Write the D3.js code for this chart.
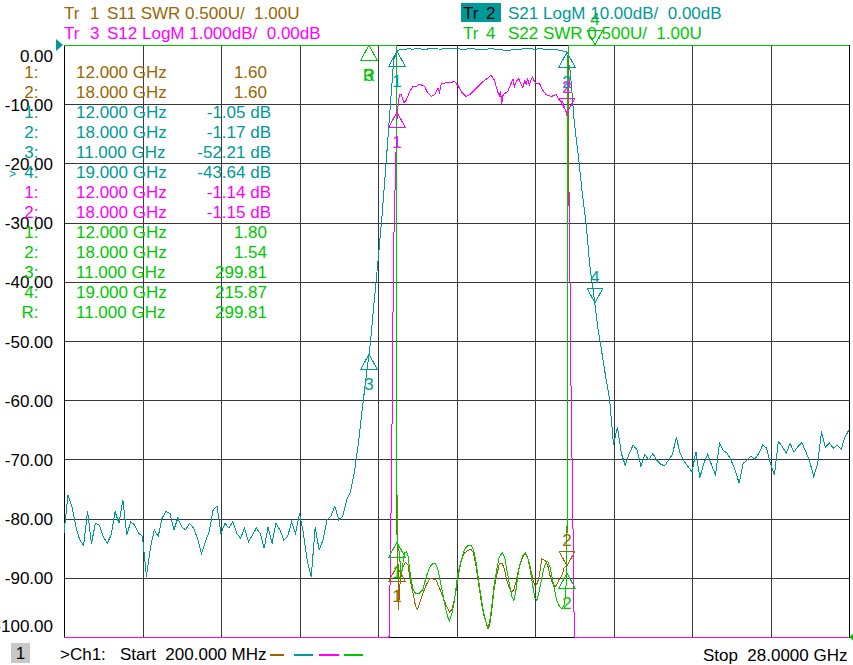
<!DOCTYPE html>
<html>
<head>
<meta charset="utf-8">
<script src="https://cdn.jsdelivr.net/npm/d3@7"></script>
<style>
  html, body { margin: 0; padding: 0; background: #fff; }
  svg { display: block; font-family: "Liberation Sans", Arial, sans-serif; font-size: 17px; }
  text { white-space: pre; }
</style>
</head>
<body>
<div id="chart"></div>
<script>
// sweep
const START_GHZ = 0.2;
const STOP_GHZ = 28.0;
const POINTS = 201;

// Tr2 S21 (dB), one value per sweep point
const S21_DB = [
  -82.5, -76.0, -77.9, -81.3, -83.6, -84.5, -78.8, -84.2, -80.8, -81.1,
  -83.0, -84.2, -82.8, -78.8, -80.8, -76.9, -82.8, -80.5, -81.1, -82.5,
  -83.0, -89.8, -85.0, -81.9, -83.0, -79.9, -78.8, -79.1, -81.9, -79.9,
  -81.4, -81.9, -80.8, -81.6, -83.3, -85.9, -83.9, -82.2, -78.5, -77.9,
  -82.5, -80.8, -81.6, -80.5, -82.5, -83.3, -81.6, -83.9, -82.8, -81.6,
  -82.5, -85.0, -81.4, -84.2, -80.8, -81.9, -83.6, -83.0, -80.5, -82.5,
  -79.1, -82.5, -87.3, -89.8, -81.4, -85.3, -83.6, -80.2, -79.6, -77.9,
  -80.2, -79.6, -76.9, -75.5, -72.1, -67.3, -61.4, -56.0, -50.7, -43.5,
  -36.5, -29.0, -20.5, -11.5, -2.5, -0.9, -0.75, -0.70, -0.65, -0.70,
  -0.62, -0.68, -0.72, -0.65, -0.60, -0.66, -0.70, -0.64, -0.58, -0.55,
  -0.60, -0.68, -0.72, -0.66, -0.62, -0.70, -0.78, -0.74, -0.68, -0.64,
  -0.70, -0.80, -0.86, -0.90, -0.84, -0.76, -0.70, -0.66, -0.62, -0.66,
  -0.70, -0.64, -0.68, -0.75, -0.82, -0.78, -0.85, -1.00, -1.17, -4.5,
  -13.0, -18.5, -24.8, -30.1, -37.5, -42.3, -47.8, -51.8, -56.0, -59.8,
  -67.5, -64.5, -69.0, -71.0, -69.0, -67.6, -68.4, -71.2, -69.2, -70.1,
  -69.0, -70.1, -70.8, -71.1, -70.1, -69.2, -66.3, -69.0, -70.3, -71.2,
  -72.1, -68.7, -73.1, -70.7, -69.1, -71.0, -72.6, -67.3, -68.5, -69.0,
  -70.2, -71.8, -74.0, -70.7, -70.1, -69.4, -70.0, -69.0, -67.6, -68.1,
  -70.7, -72.6, -67.0, -67.8, -69.0, -67.3, -68.8, -67.8, -67.2, -68.7,
  -70.4, -72.9, -70.8, -65.3, -68.0, -67.2, -68.1, -67.6, -68.3, -66.2,
  -65.0
];

// Tr3 S12 (dB), [GHz, dB]
const S12_PTS = [
  [0.2, -80], [11.71, -12.0], [11.74, -9.3], [11.79, -7.6], [11.83, -5.8],
  [11.85, -4.6], [11.88, -3.3], [11.93, -2.3], [11.97, -1.6], [12.00, -1.14],
  [12.04, -1.00], [12.08, -0.84], [12.14, -0.84], [12.24, -0.98], [12.32, -0.93],
  [12.44, -0.79], [12.55, -0.70], [12.67, -0.70], [12.79, -0.66], [12.97, -0.70],
  [13.08, -0.81], [13.21, -0.87], [13.32, -0.84], [13.44, -0.73], [13.50, -0.80],
  [13.56, -0.65], [13.74, -0.64], [13.89, -0.63], [14.03, -0.62], [14.15, -0.68],
  [14.27, -0.79], [14.44, -0.87], [14.62, -0.82], [14.80, -0.73], [15.03, -0.62],
  [15.21, -0.56], [15.33, -0.51], [15.44, -0.59], [15.56, -0.79], [15.62, -0.86],
  [15.66, -0.78], [15.70, -1.00], [15.74, -0.86], [15.80, -0.82], [15.91, -0.79],
  [16.03, -0.65], [16.10, -0.58], [16.15, -0.70], [16.21, -0.62], [16.30, -0.57],
  [16.39, -0.66], [16.45, -0.72], [16.52, -0.60], [16.57, -0.66], [16.62, -0.56],
  [16.68, -0.68], [16.74, -0.59], [16.80, -0.54], [16.86, -0.62], [16.95, -0.66],
  [17.04, -0.65], [17.15, -0.76], [17.27, -0.84], [17.45, -0.87], [17.63, -0.84],
  [17.74, -0.93], [17.86, -0.96], [17.98, -1.13], [18.00, -1.15], [18.04, -1.30],
  [18.07, -1.9], [18.11, -3.5], [18.16, -6.0], [18.21, -7.6], [18.25, -9.0],
  [18.27, -12.0], [28.0, -70]
];

// Tr1 S11 (SWR), [GHz, U]
const S11_PTS = [
  [0.2, 250], [11.0, 290], [11.92, 180], [11.97, 6.5], [11.99, 2.0],
  [12.00, 1.60], [12.03, 1.62], [12.05, 1.23], [12.08, 1.40], [12.13, 1.52],
  [12.21, 1.60], [12.30, 1.63], [12.38, 1.61], [12.47, 1.47], [12.56, 1.37],
  [12.65, 1.26], [12.71, 1.23], [12.79, 1.28], [12.91, 1.37], [13.03, 1.44],
  [13.15, 1.49], [13.26, 1.49], [13.38, 1.48], [13.50, 1.41], [13.62, 1.34],
  [13.73, 1.27], [13.85, 1.21], [13.93, 1.23], [13.99, 1.28], [14.09, 1.40],
  [14.18, 1.54], [14.27, 1.65], [14.38, 1.71], [14.50, 1.73], [14.62, 1.74],
  [14.70, 1.71], [14.80, 1.59], [14.88, 1.45], [14.97, 1.31], [15.06, 1.19],
  [15.15, 1.12], [15.21, 1.07], [15.27, 1.09], [15.35, 1.23], [15.44, 1.42],
  [15.54, 1.54], [15.62, 1.62], [15.72, 1.62], [15.80, 1.57], [15.88, 1.48],
  [15.98, 1.41], [16.06, 1.38], [16.13, 1.40], [16.21, 1.47], [16.30, 1.57],
  [16.39, 1.64], [16.48, 1.69], [16.56, 1.70], [16.65, 1.65], [16.72, 1.58],
  [16.80, 1.49], [16.88, 1.43], [16.95, 1.45], [17.03, 1.51], [17.12, 1.66],
  [17.19, 1.65], [17.27, 1.64], [17.35, 1.59], [17.42, 1.51], [17.51, 1.45],
  [17.59, 1.42], [17.66, 1.45], [17.74, 1.49], [17.82, 1.51], [17.92, 1.59],
  [18.00, 1.60], [18.03, 2.2], [18.06, 6.5], [18.10, 200], [28.0, 250]
];

// Tr4 S22 (SWR), [GHz, U]
const S22_PTS = [
  [0.2, 250], [11.0, 299.81], [11.93, 180], [11.96, 6.5], [11.99, 2.4],
  [12.00, 1.80], [12.04, 1.76], [12.08, 1.70], [12.14, 1.51], [12.20, 1.62],
  [12.26, 1.71], [12.32, 1.72], [12.38, 1.69], [12.44, 1.57], [12.56, 1.40],
  [12.65, 1.37], [12.79, 1.37], [12.91, 1.40], [13.03, 1.51], [13.15, 1.59],
  [13.26, 1.62], [13.36, 1.62], [13.44, 1.57], [13.56, 1.43], [13.68, 1.28],
  [13.79, 1.17], [13.85, 1.14], [13.95, 1.21], [14.03, 1.31], [14.09, 1.43],
  [14.15, 1.54], [14.27, 1.65], [14.38, 1.74], [14.50, 1.77], [14.62, 1.77],
  [14.70, 1.74], [14.80, 1.62], [14.88, 1.48], [14.97, 1.34], [15.06, 1.21],
  [15.15, 1.12], [15.21, 1.08], [15.27, 1.12], [15.35, 1.26], [15.44, 1.45],
  [15.54, 1.59], [15.62, 1.68], [15.72, 1.71], [15.80, 1.68], [15.88, 1.57],
  [15.98, 1.44], [16.06, 1.34], [16.13, 1.31], [16.19, 1.37], [16.27, 1.51],
  [16.35, 1.62], [16.45, 1.69], [16.54, 1.71], [16.62, 1.67], [16.71, 1.57],
  [16.80, 1.43], [16.88, 1.33], [16.95, 1.31], [17.01, 1.37], [17.10, 1.47],
  [17.18, 1.57], [17.25, 1.62], [17.33, 1.64], [17.41, 1.59], [17.48, 1.51],
  [17.57, 1.40], [17.65, 1.31], [17.74, 1.26], [17.83, 1.24], [17.90, 1.26],
  [17.96, 1.34], [18.00, 1.54], [18.03, 2.4], [18.05, 6.5], [18.08, 180],
  [19.0, 215.87], [28.0, 240]
];

// marker readouts: [id, GHz, value]
const MARKERS_TR1 = [["1", 12.0, 1.60], ["2", 18.0, 1.60]];
const MARKERS_TR2 = [["1", 12.0, -1.05], ["2", 18.0, -1.17], ["3", 11.0, -52.21], ["4", 19.0, -43.64]];
const MARKERS_TR3 = [["1", 12.0, -1.14], ["2", 18.0, -1.15]];
const MARKERS_TR4 = [["1", 12.0, 1.80], ["2", 18.0, 1.54], ["3", 11.0, 299.81], ["4", 19.0, 215.87], ["R", 11.0, 299.81]];

// trace setup text
const TRACE_NO = ["1", "2", "3", "4"];
const TRACE_PARAM = ["S11", "S21", "S12", "S22"];
const TRACE_FMT = ["SWR", "LogM", "LogM", "SWR"];
const TRACE_SCALE = ["0.500U/", "10.00dB/", "1.000dB/", "0.500U/"];
const TRACE_REF = ["1.00U", "0.00dB", "0.00dB", "1.00U"];

const Y_TICKS = [0, -10, -20, -30, -40, -50, -60, -70, -80, -90, -100];

// ---------------------------------------------------------------
const width = 853;
const height = 665;
const plot = { left: 64, right: 849, top: 45, bottom: 637 };
const colors = { tr1: "#996600", tr2: "#009999", tr3: "#ff00ff", tr4: "#00c800", grid: "#383838" };

const svg = d3
  .select("#chart")
  .append("svg")
  .attr("width", width)
  .attr("height", height)
  .attr("viewBox", `0 0 ${width} ${height}`);

const x = d3.scaleLinear().domain([START_GHZ, STOP_GHZ]).range([plot.left, plot.right]);
const yTr2 = d3.scaleLinear().domain([-100, 0]).range([plot.bottom, plot.top]).clamp(true);
const yTr3 = d3.scaleLinear().domain([-10, 0]).range([plot.bottom, plot.top]).clamp(true);
const ySwr = d3.scaleLinear().domain([1, 6]).range([plot.bottom, plot.top]).clamp(true);

const sweep = d3.range(POINTS).map((i) => START_GHZ + (i * (STOP_GHZ - START_GHZ)) / (POINTS - 1));
const xDivs = d3.range(11).map((k) => START_GHZ + (k * (STOP_GHZ - START_GHZ)) / 10);

// grid
const gridG = svg.append("g").attr("shape-rendering", "crispEdges");
gridG
  .append("g")
  .attr("transform", `translate(${plot.left},0)`)
  .call(d3.axisLeft(yTr2).tickValues(Y_TICKS).tickSize(-(plot.right - plot.left)).tickFormat(""))
  .call((g) => g.select(".domain").remove())
  .call((g) => g.selectAll("line").attr("stroke", colors.grid));
gridG
  .append("g")
  .attr("transform", `translate(0,${plot.bottom})`)
  .call(d3.axisBottom(x).tickValues(xDivs).tickSize(-(plot.bottom - plot.top)).tickFormat(""))
  .call((g) => g.select(".domain").remove())
  .call((g) => g.selectAll("line").attr("stroke", colors.grid));
gridG
  .append("rect")
  .attr("x", plot.left)
  .attr("y", plot.top)
  .attr("width", plot.right - plot.left)
  .attr("height", plot.bottom - plot.top)
  .attr("fill", "none")
  .attr("stroke", "#000");

// y labels (active trace Tr2)
svg
  .append("g")
  .attr("transform", `translate(${plot.left},0)`)
  .call(d3.axisLeft(yTr2).tickValues(Y_TICKS).tickSize(0).tickPadding(11).tickFormat((d) => d.toFixed(2)))
  .call((g) => g.select(".domain").remove())
  .call((g) =>
    g
      .selectAll("text")
      .attr("fill", "#000")
      .attr("font-size", 17)
      .attr("font-family", "Liberation Sans, Arial, sans-serif")
      .attr("dy", (d) => (d === 0 ? "16px" : d === -100 ? "-6px" : "6px"))
  );

// traces
function drawTrace(data, yScale, color) {
  const line = d3
    .line()
    .x((d) => x(d[0]))
    .y((d) => yScale(d[1]));
  svg
    .append("path")
    .attr("d", line(data))
    .attr("fill", "none")
    .attr("stroke", color)
    .attr("stroke-width", 1)
    .attr("shape-rendering", "crispEdges");
}

drawTrace(sweep.map((f, i) => [f, S21_DB[i]]), yTr2, colors.tr2);
drawTrace(S12_PTS, yTr3, colors.tr3);
drawTrace(S11_PTS, ySwr, colors.tr1);
drawTrace(S22_PTS, ySwr, colors.tr4);

// marker symbols
const flipped = new Set(["1:2", "2:4", "3:2", "4:4"]); // drawn as ▽ above the point
function drawMarkers(list, tr, yScale, color) {
  const g = svg.append("g").attr("shape-rendering", "crispEdges");
  list.forEach(([id, f, v]) => {
    const mx = Math.round(x(f));
    const my = Math.round(yScale(v));
    const down = flipped.has(`${tr}:${id}`);
    const h = down ? -15 : 15;
    g.append("path")
      .attr("d", `M${mx},${my}L${mx - 8},${my + h}L${mx + 8},${my + h}Z`)
      .attr("fill", "none")
      .attr("stroke", color);
    g.append("text")
      .attr("x", mx)
      .attr("y", down ? my - 20 : my + 36)
      .attr("text-anchor", "middle")
      .attr("fill", color)
      .text(id);
  });
}
drawMarkers(MARKERS_TR2, 2, yTr2, colors.tr2);
drawMarkers(MARKERS_TR3, 3, yTr3, colors.tr3);
drawMarkers(MARKERS_TR1, 1, ySwr, colors.tr1);
drawMarkers(MARKERS_TR4, 4, ySwr, colors.tr4);

// reference position arrows
svg.append("path").attr("d", `M56,39L63,45L56,51Z`).attr("fill", colors.tr2);
svg.append("path").attr("d", `M849,${plot.bottom}L854,${plot.bottom - 4}L854,${plot.bottom + 4}Z`).attr("fill", colors.tr4);

// marker table
const rows = [];
MARKERS_TR1.forEach((m) => rows.push({ m, color: colors.tr1, unit: "" }));
MARKERS_TR2.forEach((m) => rows.push({ m, color: colors.tr2, unit: " dB", active: m[0] === "4" }));
MARKERS_TR3.forEach((m) => rows.push({ m, color: colors.tr3, unit: " dB" }));
MARKERS_TR4.forEach((m) => rows.push({ m, color: colors.tr4, unit: "" }));

const table = svg.append("g");
rows.forEach((r, k) => {
  const by = 77.5 + k * 20;
  if (r.active) {
    table.append("text").attr("x", 9).attr("y", by).attr("font-size", 12).attr("fill", r.color).text(">");
  }
  table.append("text").attr("x", 38.5).attr("y", by).attr("text-anchor", "end").attr("fill", r.color).text(`${r.m[0]}:`);
  table.append("text").attr("x", 76).attr("y", by).attr("fill", r.color).text(`${r.m[1].toFixed(3)} GHz`);
  table
    .append("text")
    .attr("x", r.unit ? 271 : 267)
    .attr("y", by)
    .attr("text-anchor", "end")
    .attr("fill", r.color)
    .text(`${r.m[2].toFixed(2)}${r.unit}`);
});

// header
const header = svg.append("g");
const headPos = [
  { tx: 64, nx: 90, sx: 107, by: 18.5 },
  { tx: 463, nx: 486, sx: 508, by: 18.5 },
  { tx: 64, nx: 90, sx: 107, by: 38.5 },
  { tx: 463, nx: 486, sx: 508, by: 38.5 },
];
const traceColors = [colors.tr1, colors.tr2, colors.tr3, colors.tr4];
TRACE_NO.forEach((n, i) => {
  const p = headPos[i];
  const active = i === 1;
  if (active) {
    header.append("rect").attr("x", 461).attr("y", 3).attr("width", 40).attr("height", 19).attr("fill", colors.tr2);
  }
  const c = traceColors[i];
  header.append("text").attr("x", p.tx).attr("y", p.by).attr("fill", active ? "#000" : c).text("Tr");
  header.append("text").attr("x", p.nx).attr("y", p.by).attr("fill", active ? "#000" : c).text(n);
  header
    .append("text")
    .attr("x", p.sx)
    .attr("y", p.by)
    .attr("fill", c)
    .text(`${TRACE_PARAM[i]} ${TRACE_FMT[i]} ${TRACE_SCALE[i]}  ${TRACE_REF[i]}`);
});

// footer
const footer = svg.append("g");
footer.append("rect").attr("x", 11).attr("y", 643).attr("width", 19).attr("height", 20).attr("fill", "#c8c8c8");
footer.append("text").attr("x", 20.5).attr("y", 659).attr("text-anchor", "middle").attr("fill", "#000").text("1");
footer.append("text").attr("x", 60).attr("y", 660).attr("fill", "#000").text(`>Ch1:   Start  ${(START_GHZ * 1000).toFixed(3)} MHz`);
footer.append("text").attr("x", 847.5).attr("y", 661).attr("text-anchor", "end").attr("fill", "#000").text(`Stop  ${STOP_GHZ.toFixed(4)} GHz`);
const dashes = [[270, 284], [294, 313], [319, 339], [344, 363]];
dashes.forEach(([a, b], i) => {
  footer
    .append("line")
    .attr("x1", a)
    .attr("x2", b)
    .attr("y1", 655)
    .attr("y2", 655)
    .attr("stroke", traceColors[i])
    .attr("stroke-width", 2);
});
</script>
</body>
</html>
